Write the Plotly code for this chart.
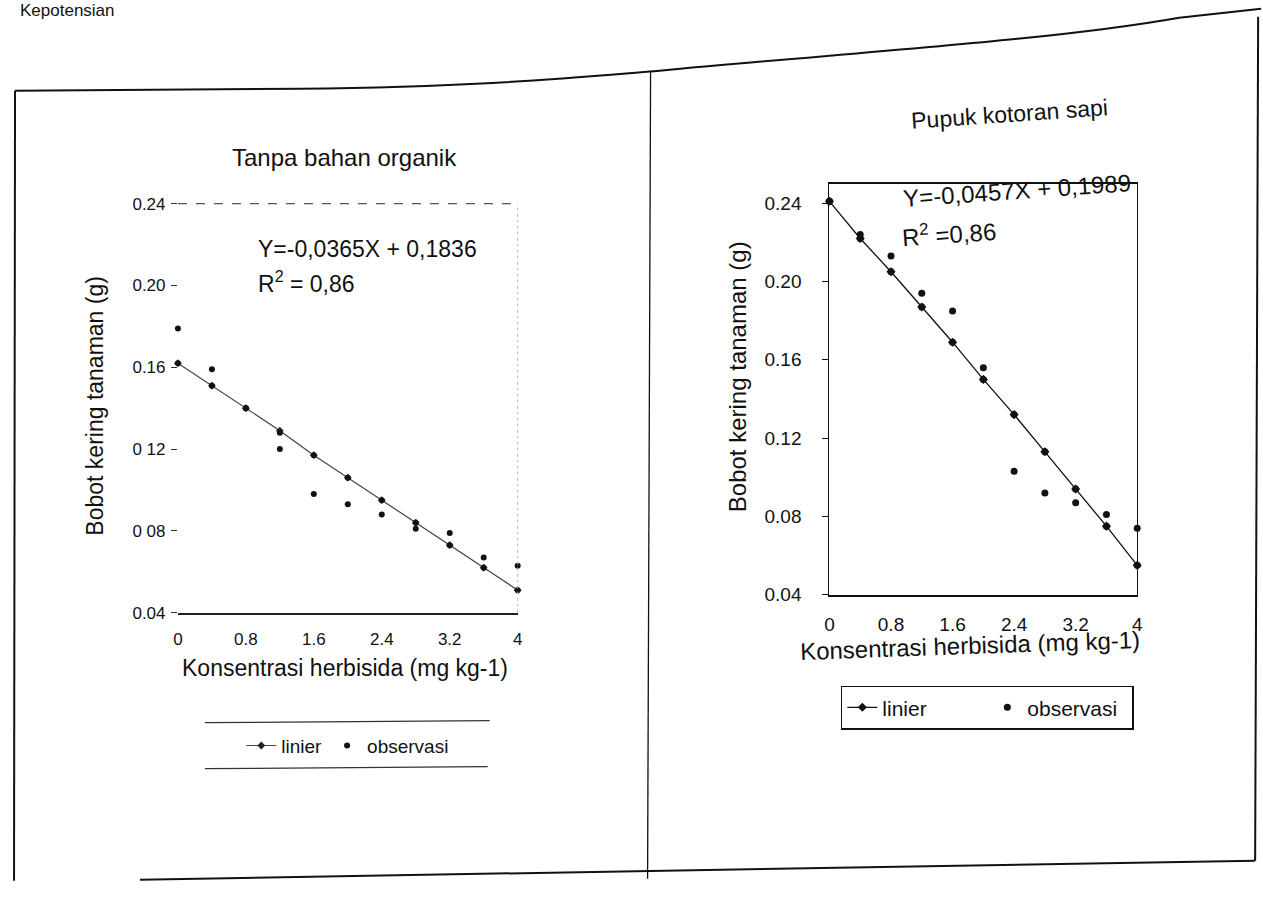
import plotly.graph_objects as go

# Herbicide concentration levels (mg kg-1)
conc = [0, 0.4, 0.8, 1.2, 1.6, 2.0, 2.4, 2.8, 3.2, 3.6, 4.0]

# Tanpa bahan organik: two replicate observations and fitted line
left_obs_1 = [0.179, 0.159, 0.140, 0.128, 0.117, 0.106, 0.095, 0.084, 0.079, 0.067, 0.063]
left_obs_2 = [0.162, 0.151, 0.140, 0.120, 0.098, 0.093, 0.088, 0.081, 0.073, 0.062, 0.051]
left_fit = [0.162, 0.151, 0.140, 0.129, 0.117, 0.106, 0.095, 0.084, 0.073, 0.062, 0.051]

# Pupuk kotoran sapi: two replicate observations and fitted line
right_obs_1 = [0.241, 0.224, 0.213, 0.194, 0.185, 0.156, 0.132, 0.113, 0.094, 0.081, 0.074]
right_obs_2 = [0.241, 0.222, 0.205, 0.187, 0.169, 0.150, 0.103, 0.092, 0.087, 0.075, 0.055]
right_fit = [0.241, 0.222, 0.205, 0.187, 0.169, 0.150, 0.132, 0.113, 0.094, 0.075, 0.055]

x_ticks = [0, 0.8, 1.6, 2.4, 3.2, 4]
x_tick_text = ["0", "0.8", "1.6", "2.4", "3.2", "4"]
y_ticks = [0.04, 0.08, 0.12, 0.16, 0.20, 0.24]
y_tick_text = ["0.04", "0 08", "0 12", "0.16", "0.20", "0.24"]
y_tick_text_r = ["0.04", "0.08", "0.12", "0.16", "0.20", "0.24"]

W, H = 1263, 908
FONT = "Liberation Sans, Arial, sans-serif"

# Layout positions below are given in page pixels; these constants account
# for the page's body offset and the way the page is framed on screen.
SX, SY = 0.992, 0.978
OX, OY = 5.0, 8.5


def px(x):
    return (x / SX - OX) / W


def py(y):
    return 1 - (y / SY - OY) / H


fig = go.Figure()

# left panel
fig.add_trace(go.Scatter(
    x=conc, y=left_fit, mode="lines+markers", name="linier",
    line=dict(color="#444", width=1.2),
    marker=dict(symbol="diamond", size=6, color="#222"),
    xaxis="x", yaxis="y", legend="legend", cliponaxis=False))
fig.add_trace(go.Scatter(
    x=conc + conc, y=left_obs_1 + left_obs_2, mode="markers", name="observasi",
    marker=dict(symbol="circle", size=6, color="#111"),
    xaxis="x", yaxis="y", legend="legend", cliponaxis=False))

# right panel
fig.add_trace(go.Scatter(
    x=conc, y=right_fit, mode="lines+markers", name="linier",
    line=dict(color="#111", width=1.3),
    marker=dict(symbol="diamond", size=7, color="#111"),
    xaxis="x2", yaxis="y2", legend="legend2", cliponaxis=False))
fig.add_trace(go.Scatter(
    x=conc + conc, y=right_obs_1 + right_obs_2, mode="markers", name="observasi",
    marker=dict(symbol="circle", size=7, color="#111"),
    xaxis="x2", yaxis="y2", legend="legend2", cliponaxis=False))

tick_font_l = dict(family=FONT, size=17, color="#111")
tick_font_r = dict(family=FONT, size=19, color="#111")

fig.update_layout(
    width=W, height=H,
    margin=dict(l=0, r=0, t=0, b=0),
    paper_bgcolor="white", plot_bgcolor="white",
    font=dict(family=FONT, color="#111"),
    xaxis=dict(
        domain=[px(178), px(518)], range=[0, 4],
        tickvals=x_ticks, ticktext=x_tick_text, tickfont=tick_font_l,
        ticks="outside", ticklen=10, tickcolor="rgba(0,0,0,0)",
        showline=True, linecolor="#222", linewidth=1.5,
        showgrid=False, zeroline=False, anchor="y"),
    yaxis=dict(
        domain=[py(612), py(203)], range=[0.04, 0.24],
        tickvals=y_ticks, ticktext=y_tick_text, tickfont=tick_font_l,
        ticks="outside", ticklen=6, tickcolor="#333", ticklabelstandoff=2,
        showline=False, showgrid=False, zeroline=False, anchor="x"),
    xaxis2=dict(
        domain=[px(830), px(1138)], range=[0, 4],
        tickvals=x_ticks, ticktext=x_tick_text, tickfont=tick_font_r,
        ticks="outside", ticklen=12, tickcolor="rgba(0,0,0,0)",
        showline=True, linecolor="#111", linewidth=1.5, mirror=True,
        showgrid=False, zeroline=False, anchor="y2"),
    yaxis2=dict(
        domain=[py(594), py(183)], range=[0.04, 0.25],
        tickvals=y_ticks, ticktext=y_tick_text_r, tickfont=tick_font_r,
        ticks="outside", ticklen=6, tickcolor="#111", ticklabelstandoff=17,
        showline=True, linecolor="#111", linewidth=1.3, mirror=True,
        showgrid=False, zeroline=False, anchor="x2"),
    legend=dict(
        orientation="h", x=px(348), y=py(745), xanchor="center", yanchor="middle",
        font=dict(family=FONT, size=19, color="#111"),
        bgcolor="rgba(0,0,0,0)", borderwidth=0),
    legend2=dict(
        orientation="h", x=px(988), y=py(707), xanchor="center", yanchor="middle",
        font=dict(family=FONT, size=21, color="#111"),
        bgcolor="white", bordercolor="#111", borderwidth=1.5,
        entrywidth=100),
)

# box edges of the left plot area
fig.add_shape(type="line", xref="x domain", yref="y domain", x0=0, x1=1, y0=1, y1=1,
              line=dict(color="#555", width=1.2, dash="dash"))
fig.add_shape(type="line", xref="x domain", yref="y domain", x0=1, x1=1, y0=0, y1=1,
              line=dict(color="#bbb", width=1, dash="dot"))

# rules above and below the left legend
fig.add_shape(type="line", xref="paper", yref="paper", x0=px(205), x1=px(490),
              y0=py(722), y1=py(720), line=dict(color="#333", width=1.2))
fig.add_shape(type="line", xref="paper", yref="paper", x0=px(205), x1=px(488),
              y0=py(768), y1=py(766), line=dict(color="#333", width=1.2))

# page frame
frame = dict(color="#111", width=2)
top_path = (f"M {px(15)},{py(90)} L {px(300)},{py(88)} "
            f"C {px(480)},{py(86)} {px(560)},{py(78)} {px(660)},{py(70)} "
            f"C {px(850)},{py(52)} {px(1050)},{py(40)} {px(1180)},{py(17)} "
            f"L {px(1262)},{py(8)}")
fig.add_shape(type="path", xref="paper", yref="paper", path=top_path, line=frame)
fig.add_shape(type="line", xref="paper", yref="paper", x0=px(15), x1=px(14),
              y0=py(90), y1=py(880), line=frame)
fig.add_shape(type="line", xref="paper", yref="paper", x0=px(651), x1=px(648),
              y0=py(70), y1=py(878), line=dict(color="#111", width=1.3))
fig.add_shape(type="line", xref="paper", yref="paper", x0=px(140), x1=px(1256),
              y0=py(879), y1=py(860), line=frame)
fig.add_shape(type="line", xref="paper", yref="paper", x0=px(1259), x1=px(1256),
              y0=py(16), y1=py(860), line=frame)

ann = []
ann.append(dict(text="Kepotensian", x=px(18), y=py(10), xanchor="left", yanchor="middle",
                font=dict(size=17)))
ann.append(dict(text="Tanpa bahan organik", x=px(345), y=py(157), font=dict(size=24)))
ann.append(dict(text="Y=-0,0365X + 0,1836", x=px(256), y=py(248), xanchor="left",
                font=dict(size=23)))
ann.append(dict(text="R<sup>2</sup> = 0,86", x=px(256), y=py(281), xanchor="left",
                font=dict(size=23)))
ann.append(dict(text="Bobot kering tanaman (g)", x=px(95), y=py(405), textangle=-90,
                font=dict(size=23)))
ann.append(dict(text="Konsentrasi herbisida (mg kg-1)", x=px(345), y=py(667),
                font=dict(size=23)))

ann.append(dict(text="Pupuk kotoran sapi", x=px(1010), y=py(113), textangle=-4,
                font=dict(size=23)))
ann.append(dict(text="Y=-0,0457X + 0,1989", x=px(1018), y=py(190), textangle=-4,
                font=dict(size=24)))
ann.append(dict(text="R<sup>2</sup> =0,86", x=px(950), y=py(232), textangle=-4,
                font=dict(size=24)))
ann.append(dict(text="Bobot kering tanaman (g)", x=px(738), y=py(376), textangle=-90,
                font=dict(size=24)))
ann.append(dict(text="Konsentrasi herbisida (mg kg-1)", x=px(971), y=py(645), textangle=-2,
                font=dict(size=24)))

for a in ann:
    a.setdefault("xanchor", "center")
    a.setdefault("yanchor", "middle")
    a.update(xref="paper", yref="paper", showarrow=False)
    a["font"].update(family=FONT, color="#111")
fig.update_layout(annotations=ann)

fig.write_html("out.html")
